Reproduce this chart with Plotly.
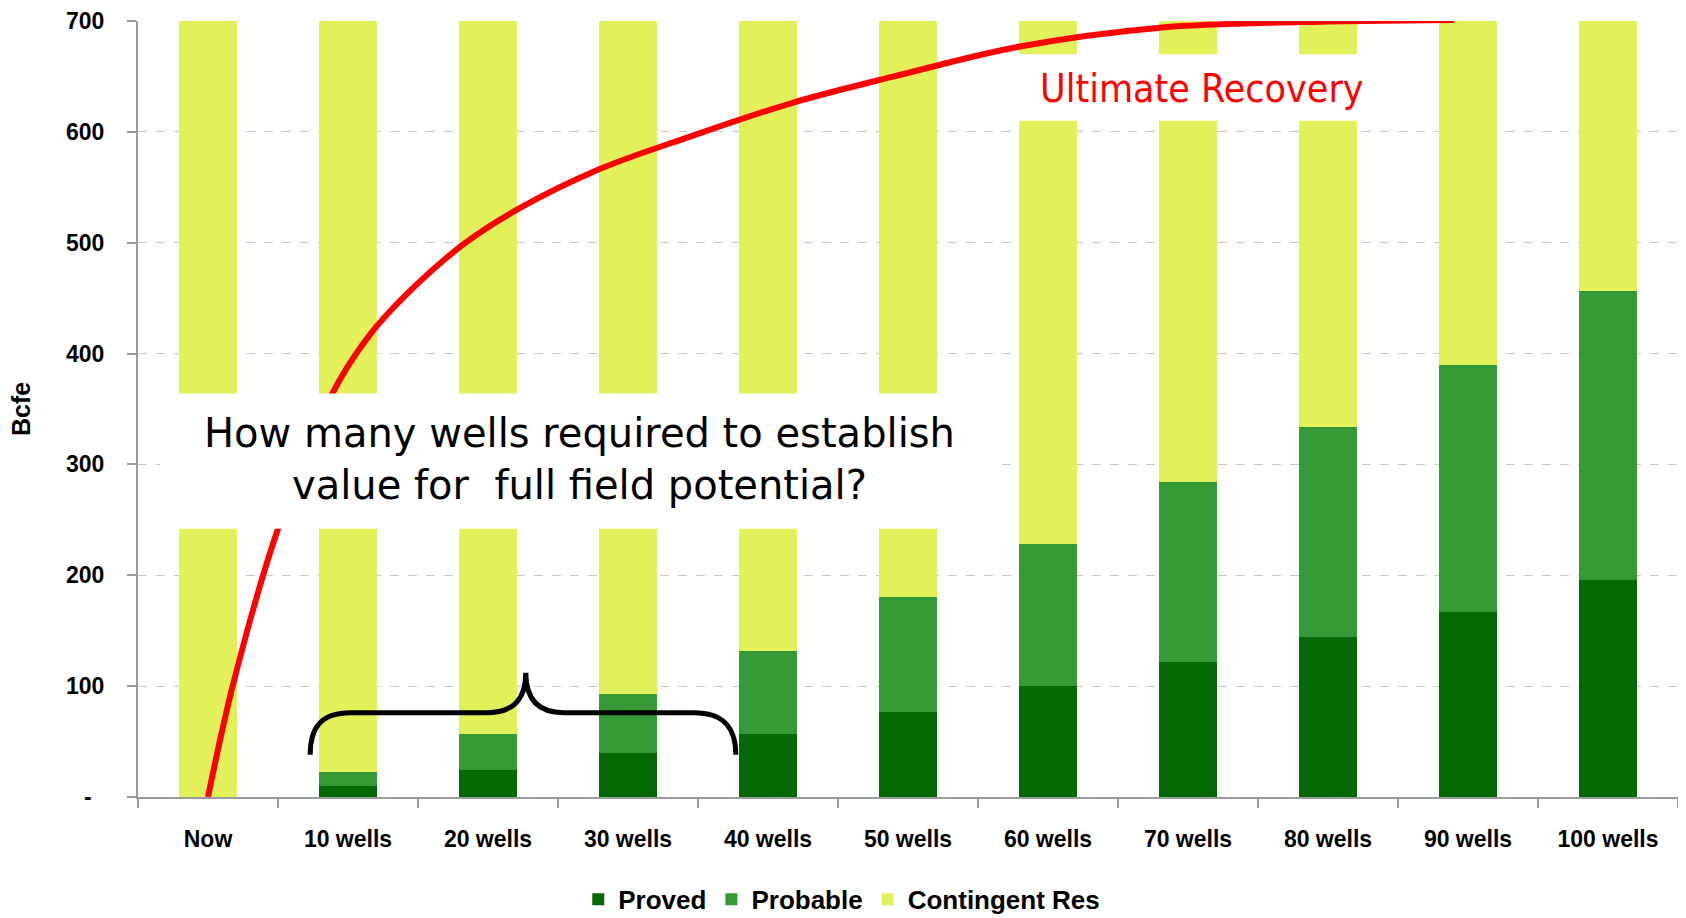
import plotly.graph_objects as go

# ---------------- data ----------------
categories = ["Now", "10 wells", "20 wells", "30 wells", "40 wells", "50 wells",
              "60 wells", "70 wells", "80 wells", "90 wells", "100 wells"]
proved = [0, 10, 24, 40, 57, 77, 100, 122, 144, 167, 196]
probable = [0, 13, 33, 53, 75, 103, 128, 162, 190, 223, 260]
contingent = [700, 677, 643, 607, 568, 520, 472, 416, 366, 310, 244]

# Ultimate recovery curve (number of wells, Bcfe)
curve_wells = [0, 1.8, 5, 8.8, 11.5, 14.8, 18.4, 22.1, 27.9, 34.5, 41.7, 49, 58, 68, 78, 89]
curve_bcfe = [0, 102, 242, 362, 416, 461, 500, 530, 566, 596, 626, 650, 677, 694, 699, 701]

y_tickvals = [0, 100, 200, 300, 400, 500, 600, 700]
y_ticktext = ["-\u00a0\u00a0", "100", "200", "300", "400", "500", "600", "700"]

# ---------------- styles ----------------
C_PROVED = "#056805"
C_PROBABLE = "#359A35"
C_CONT = "#E2F05A"
TICK_FONT = dict(family="Liberation Sans, Arial, sans-serif", size=23, color="#000000", weight="bold")

fig = go.Figure()
fig.add_trace(go.Bar(name="Proved", x=categories, y=proved, marker=dict(color=C_PROVED, line=dict(width=0))))
fig.add_trace(go.Bar(name="Probable", x=categories, y=probable, marker=dict(color=C_PROBABLE, line=dict(width=0))))
fig.add_trace(go.Bar(name="Contingent Res", x=categories, y=contingent, marker=dict(color=C_CONT, line=dict(width=0))))

fig.add_trace(go.Scatter(x=curve_wells, y=curve_bcfe, xaxis="x2", yaxis="y", mode="lines",
                         line=dict(color="#FF0000", width=6, shape="spline", smoothing=1.0),
                         showlegend=False, hoverinfo="skip"))

# brace and white text boxes
shapes = [
    dict(type="rect", xref="x2", yref="y", x0=-3.4, x1=56.6, y0=242, y1=364,
         fillcolor="white", line=dict(width=0), layer="above"),
    dict(type="rect", xref="x2", yref="y", x0=56.6, x1=84.5, y0=610, y1=670,
         fillcolor="white", line=dict(width=0), layer="above"),
    dict(type="path", xref="x2", yref="y", layer="above",
         path="M 7.3,38 C 7.3,62 8.0,76 10.2,76 L 19.9,76 C 21.8,76 22.7,88 22.7,112 "
              "C 22.7,88 23.6,76 25.4,76 L 34.7,76 C 36.9,76 37.7,62 37.7,38",
         line=dict(color="black", width=5)),
]

annotations = [
    dict(xref="x2", yref="y", x=26.5, y=305, showarrow=False,
         text="How many wells required to establish<br>value for  full field potential?",
         font=dict(family="DejaVu Sans, Verdana, sans-serif", size=40, color="black")),
    dict(xref="x2", yref="y", x=71, y=639, showarrow=False, text="Ultimate Recovery",
         font=dict(family="DejaVu Sans Condensed, DejaVu Sans, sans-serif", size=39, color="#FF0000")),
    dict(xref="paper", yref="paper", x=-0.076, y=0.5, xanchor="center", yanchor="middle",
         showarrow=False, text="Bcfe", textangle=-90,
         font=dict(family="Liberation Sans, Arial, sans-serif", size=25, color="black", weight="bold")),
]

fig.update_layout(
    width=1686, height=918,
    margin=dict(l=130, r=16, t=13, b=129, autoexpand=False),
    paper_bgcolor="white", plot_bgcolor="white",
    barmode="stack", bargap=0.59,
    shapes=shapes, annotations=annotations,
    showlegend=True,
    legend=dict(orientation="h", x=0.457, xanchor="center", y=-0.132, yanchor="middle",
                font=dict(family="Liberation Sans, Arial, sans-serif", size=26, color="black", weight="bold"),
                itemwidth=30, tracegroupgap=0, traceorder="normal"),
    xaxis=dict(type="category", range=[-0.5, 10.5], showline=True, linecolor="#9A9A9A", linewidth=2,
               ticks="outside", tickson="boundaries", ticklen=9, tickwidth=2, tickcolor="#9A9A9A",
               tickfont=TICK_FONT, ticklabelstandoff=20, showgrid=False, zeroline=False,
               ticklabeloverflow="allow"),
    xaxis2=dict(overlaying="x", range=[-5, 105], visible=False, showgrid=False, zeroline=False),
    yaxis=dict(range=[0, 700], tickvals=y_tickvals, ticktext=y_ticktext, showline=True,
               linecolor="#9A9A9A", linewidth=2, ticks="outside", ticklen=9, tickwidth=2,
               tickcolor="#9A9A9A", tickfont=TICK_FONT, ticklabelstandoff=18,
               ticklabeloverflow="allow",
               showgrid=True, gridcolor="#C8C8C8", griddash="dash", gridwidth=1, zeroline=False),
)

fig.write_html("out.html")
